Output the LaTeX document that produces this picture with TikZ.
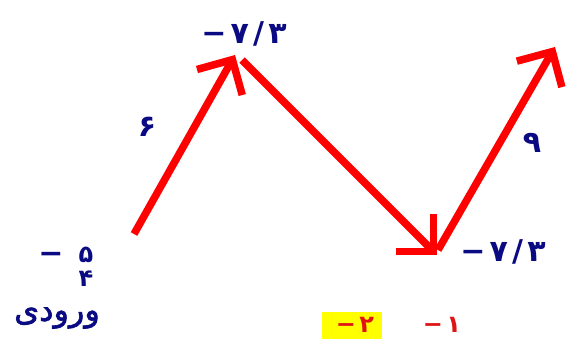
\documentclass[tikz,border=0pt]{standalone}
\usepackage{fontspec}
\usetikzlibrary{arrows.meta}
\TeXXeTstate=1
\newfontfamily\arabicfont[Script=Arabic,FakeBold=2]{DejaVu Sans}
\newfontfamily\digitfont[LetterSpace=14]{DejaVu Sans}
\definecolor{inkred}{RGB}{255,0,0}
\definecolor{inkblue}{RGB}{10,10,130}
\definecolor{markred}{RGB}{225,20,20}
\definecolor{hiyellow}{RGB}{255,255,0}
\begin{document}
\begin{tikzpicture}[x=1pt,y=-1pt,
  vec/.style={draw=inkred,line width=7.5pt,-{Straight Barb[length=26pt,width=52pt,line width=7.5pt]}},
  lab/.style={text=inkblue,font=\digitfont\bfseries\fontsize{30}{30}\selectfont,inner sep=0pt},
  redmark/.style={text=markred,font=\digitfont\bfseries\fontsize{24}{24}\selectfont,inner sep=0pt}]
\useasboundingbox (0,0) rectangle (573,338);
\coordinate (a) at (134,234);
\coordinate (b) at (235,55);
\coordinate (b2) at (242,60);
\coordinate (c) at (437,255);
\coordinate (c2) at (438,250);
\coordinate (d) at (555,47);
\draw[vec] (a) -- (b);
\draw[vec] (b2) -- (c);
\draw[vec] (c2) -- (d);
\node[lab] (top) at (244,34) {−۷/۳};
\node[lab] (right) at (503,252) {−۷/۳};
\node[lab] (minus) at (51,258) {−};
\node[lab,font=\digitfont\bfseries\fontsize{24}{24}\selectfont] (five) at (86,255) {۵};
\node[lab,font=\digitfont\bfseries\fontsize{24}{24}\selectfont] (four) at (86,279) {۴};
\node[lab,font=\arabicfont\fontsize{32}{32}\selectfont] (input) at (57,318) {\beginR ورودی\endR};
\node[lab] (six) at (147,127) {۶};
\node[lab] (nine) at (532,143) {۹};
\node[fill=hiyellow,minimum width=60pt,minimum height=28pt,inner sep=0pt] (hl) at (352,326) {};
\node[redmark] (m2) at (355,325) {−۲};
\node[redmark] (m1) at (442,325) {−۱};
\end{tikzpicture}
\end{document}
